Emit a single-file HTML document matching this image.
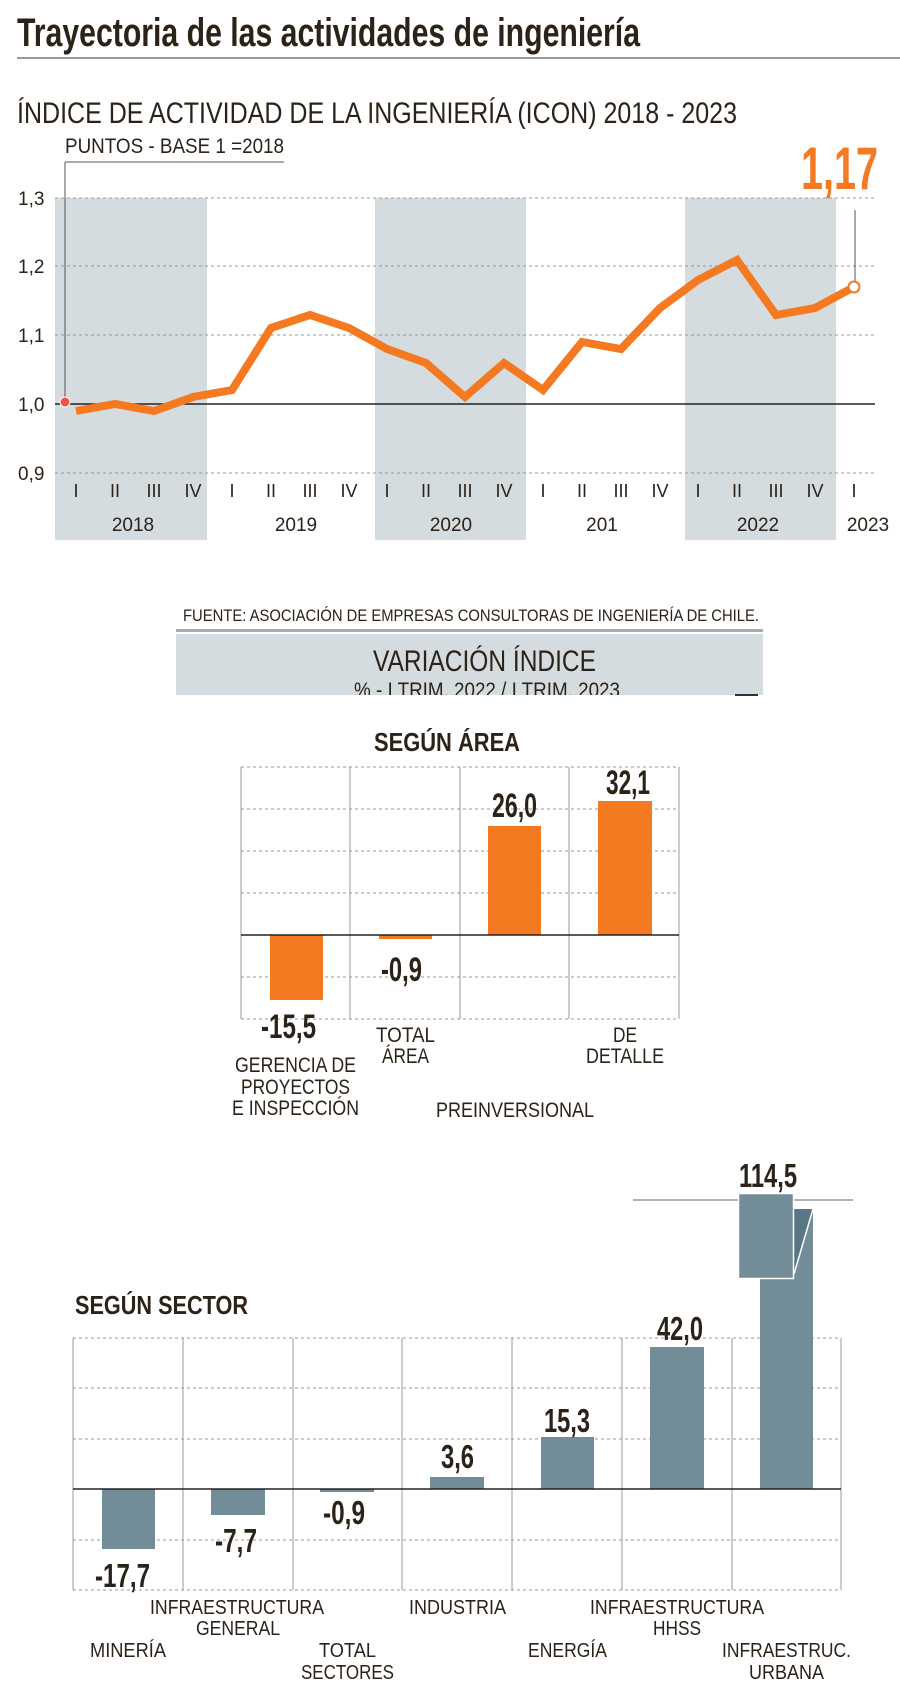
<!DOCTYPE html>
<html><head><meta charset="utf-8"><style>
html,body{margin:0;padding:0;background:#fff;}
svg{display:block;}
text{font-family:"Liberation Sans",sans-serif;fill:#2b2218;}
.b{font-weight:bold;}
</style></head><body>
<svg width="900" height="1707" viewBox="0 0 900 1707" xmlns="http://www.w3.org/2000/svg">
<!-- Title -->
<text x="17" y="46" font-size="40" class="b" textLength="623" lengthAdjust="spacingAndGlyphs">Trayectoria de las actividades de ingeniería</text>
<rect x="17" y="57" width="883" height="2" fill="#9a9a9a"/>
<text x="17" y="123" font-size="30" textLength="720" lengthAdjust="spacingAndGlyphs">ÍNDICE DE ACTIVIDAD DE LA INGENIERÍA (ICON) 2018 - 2023</text>
<text x="65" y="153" font-size="21" textLength="219" lengthAdjust="spacingAndGlyphs">PUNTOS - BASE 1 =2018</text>
<line x1="65" y1="162" x2="284" y2="162" stroke="#555" stroke-width="1"/>
<!-- bands -->
<rect x="55" y="198" width="152" height="342" fill="#d5dcdf"/>
<rect x="375" y="198" width="151" height="342" fill="#d5dcdf"/>
<rect x="685" y="198" width="151" height="342" fill="#d5dcdf"/>
<g stroke="#999" stroke-width="1" stroke-dasharray="3,3">
<line x1="55" y1="198" x2="875" y2="198"/>
<line x1="55" y1="266" x2="875" y2="266"/>
<line x1="55" y1="335" x2="875" y2="335"/>
<line x1="55" y1="473" x2="875" y2="473"/>
</g>
<line x1="55" y1="404" x2="875" y2="404" stroke="#222" stroke-width="1.5"/>
<g font-size="19">
<text x="18" y="205">1,3</text><text x="18" y="273">1,2</text><text x="18" y="342">1,1</text><text x="18" y="411">1,0</text><text x="18" y="480">0,9</text>
</g>
<line x1="65" y1="162" x2="65" y2="402" stroke="#555" stroke-width="1"/>
<g font-size="18" text-anchor="middle">
<text x="76" y="497">I</text><text x="115" y="497">II</text><text x="154" y="497">III</text><text x="193" y="497">IV</text>
<text x="232" y="497">I</text><text x="271" y="497">II</text><text x="310" y="497">III</text><text x="349" y="497">IV</text>
<text x="387" y="497">I</text><text x="426" y="497">II</text><text x="465" y="497">III</text><text x="504" y="497">IV</text>
<text x="543" y="497">I</text><text x="582" y="497">II</text><text x="621" y="497">III</text><text x="660" y="497">IV</text>
<text x="698" y="497">I</text><text x="737" y="497">II</text><text x="776" y="497">III</text><text x="815" y="497">IV</text>
<text x="854" y="497">I</text>
</g>
<g font-size="19" text-anchor="middle">
<text x="133" y="531">2018</text><text x="296" y="531">2019</text><text x="451" y="531">2020</text><text x="602" y="531">201</text><text x="758" y="531">2022</text><text x="868" y="531">2023</text>
</g>
<polyline fill="none" stroke="#f47920" stroke-width="8" stroke-linejoin="miter" points="76,411 115,404 154,411 193,397 232,390 271,328 310,315 349,328 387,349 426,363 465,397 504,363 543,390 582,342 621,349 660,308 698,280 737,260 776,315 815,308 854,287"/>
<circle cx="65" cy="402" r="5" fill="#f0524a" stroke="#fff" stroke-width="1"/>
<line x1="855" y1="210" x2="855" y2="282" stroke="#555" stroke-width="1"/>
<circle cx="854" cy="287" r="5.5" fill="#fff" stroke="#f47920" stroke-width="2"/>
<text x="801" y="189" font-size="60" class="b" fill="#f47920" style="fill:#f47920" textLength="77" lengthAdjust="spacingAndGlyphs">1,17</text>

<!-- Section 2 -->
<text x="183" y="621" font-size="17" textLength="576" lengthAdjust="spacingAndGlyphs">FUENTE: ASOCIACIÓN DE EMPRESAS CONSULTORAS DE INGENIERÍA DE CHILE.</text>
<rect x="176" y="629" width="587" height="3" fill="#aaa"/>
<rect x="176" y="634" width="587" height="61" fill="#d5dcdf"/>
<text x="373" y="671" font-size="30" textLength="223" lengthAdjust="spacingAndGlyphs">VARIACIÓN ÍNDICE</text>
<svg x="0" y="0" width="900" height="695" overflow="hidden"><text x="354" y="697" font-size="21" textLength="266" lengthAdjust="spacingAndGlyphs">% - I TRIM. 2022 / I TRIM. 2023</text></svg>
<rect x="735" y="694" width="23" height="2" fill="#333"/>
<text x="374" y="751" font-size="26" class="b" textLength="146" lengthAdjust="spacingAndGlyphs">SEGÚN ÁREA</text>
<g stroke="#999" stroke-width="1" stroke-dasharray="3,3">
<line x1="241" y1="767" x2="679" y2="767"/><line x1="241" y1="809" x2="679" y2="809"/><line x1="241" y1="851" x2="679" y2="851"/><line x1="241" y1="893" x2="679" y2="893"/><line x1="241" y1="977" x2="679" y2="977"/><line x1="241" y1="1019" x2="679" y2="1019"/>
</g>
<g stroke="#999" stroke-width="1">
<line x1="241" y1="767" x2="241" y2="1019"/><line x1="350" y1="767" x2="350" y2="1019"/><line x1="460" y1="767" x2="460" y2="1019"/><line x1="569" y1="767" x2="569" y2="1019"/><line x1="679" y1="767" x2="679" y2="1019"/>
</g>
<g fill="#f47920">
<rect x="270" y="935" width="53" height="65"/>
<rect x="379" y="935" width="53" height="4"/>
<rect x="488" y="826" width="53" height="109"/>
<rect x="598" y="801" width="54" height="134"/>
</g>
<line x1="241" y1="935" x2="679" y2="935" stroke="#222" stroke-width="1.5"/>
<g font-size="34" class="b">
<text x="492" y="817" textLength="45" lengthAdjust="spacingAndGlyphs">26,0</text>
<text x="606" y="794" textLength="44" lengthAdjust="spacingAndGlyphs">32,1</text>
<text x="381" y="981" textLength="41" lengthAdjust="spacingAndGlyphs">-0,9</text>
<text x="261" y="1038" textLength="55" lengthAdjust="spacingAndGlyphs">-15,5</text>
</g>
<g font-size="21">
<text x="376" y="1042" textLength="59" lengthAdjust="spacingAndGlyphs">TOTAL</text>
<text x="382" y="1063" textLength="47" lengthAdjust="spacingAndGlyphs">ÁREA</text>
<text x="613" y="1042" textLength="24" lengthAdjust="spacingAndGlyphs">DE</text>
<text x="586" y="1063" textLength="78" lengthAdjust="spacingAndGlyphs">DETALLE</text>
<text x="235" y="1072" textLength="121" lengthAdjust="spacingAndGlyphs">GERENCIA DE</text>
<text x="241" y="1094" textLength="109" lengthAdjust="spacingAndGlyphs">PROYECTOS</text>
<text x="232" y="1115" textLength="127" lengthAdjust="spacingAndGlyphs">E INSPECCIÓN</text>
<text x="436" y="1117" textLength="158" lengthAdjust="spacingAndGlyphs">PREINVERSIONAL</text>
</g>

<!-- Section 3 -->
<line x1="633" y1="1200" x2="853" y2="1200" stroke="#999" stroke-width="1.5"/>
<text x="75" y="1314" font-size="26" class="b" textLength="173" lengthAdjust="spacingAndGlyphs">SEGÚN SECTOR</text>
<g stroke="#999" stroke-width="1" stroke-dasharray="3,3">
<line x1="73" y1="1338" x2="841" y2="1338"/><line x1="73" y1="1388" x2="841" y2="1388"/><line x1="73" y1="1439" x2="841" y2="1439"/><line x1="73" y1="1540" x2="841" y2="1540"/><line x1="73" y1="1590" x2="841" y2="1590"/>
</g>
<g stroke="#999" stroke-width="1">
<line x1="73" y1="1338" x2="73" y2="1590"/><line x1="183" y1="1338" x2="183" y2="1590"/><line x1="293" y1="1338" x2="293" y2="1590"/><line x1="402" y1="1338" x2="402" y2="1590"/><line x1="512" y1="1338" x2="512" y2="1590"/><line x1="622" y1="1338" x2="622" y2="1590"/><line x1="732" y1="1338" x2="732" y2="1590"/><line x1="841" y1="1338" x2="841" y2="1590"/>
</g>
<g fill="#728c98">
<rect x="102" y="1489" width="53" height="60"/>
<rect x="211" y="1489" width="54" height="26"/>
<rect x="320" y="1489" width="54" height="3"/>
<rect x="430" y="1477" width="54" height="12"/>
<rect x="541" y="1437" width="53" height="52"/>
<rect x="650" y="1347" width="54" height="142"/>
<rect x="760" y="1209" width="53" height="280"/>
</g>
<polygon points="794,1209 813,1209 794,1272" fill="#587684"/>
<line x1="813" y1="1209" x2="794" y2="1274" stroke="#fff" stroke-width="1.5"/>
<rect x="738.5" y="1193.5" width="55" height="85" fill="#728c98" stroke="#fff" stroke-width="1.5"/>
<line x1="73" y1="1489" x2="841" y2="1489" stroke="#222" stroke-width="1.5"/>
<g font-size="33" class="b">
<text x="95" y="1587" textLength="55" lengthAdjust="spacingAndGlyphs">-17,7</text>
<text x="215" y="1552" textLength="42" lengthAdjust="spacingAndGlyphs">-7,7</text>
<text x="323" y="1524" textLength="42" lengthAdjust="spacingAndGlyphs">-0,9</text>
<text x="441" y="1468" textLength="33" lengthAdjust="spacingAndGlyphs">3,6</text>
<text x="544" y="1432" textLength="46" lengthAdjust="spacingAndGlyphs">15,3</text>
<text x="657" y="1340" textLength="46" lengthAdjust="spacingAndGlyphs">42,0</text>
<text x="739" y="1187" textLength="58" lengthAdjust="spacingAndGlyphs">114,5</text>
</g>
<g font-size="20">
<text x="150" y="1614" textLength="174" lengthAdjust="spacingAndGlyphs">INFRAESTRUCTURA</text>
<text x="196" y="1635" textLength="84" lengthAdjust="spacingAndGlyphs">GENERAL</text>
<text x="409" y="1614" textLength="97" lengthAdjust="spacingAndGlyphs">INDUSTRIA</text>
<text x="590" y="1614" textLength="174" lengthAdjust="spacingAndGlyphs">INFRAESTRUCTURA</text>
<text x="653" y="1635" textLength="48" lengthAdjust="spacingAndGlyphs">HHSS</text>
<text x="90" y="1657" textLength="76" lengthAdjust="spacingAndGlyphs">MINERÍA</text>
<text x="319" y="1657" textLength="57" lengthAdjust="spacingAndGlyphs">TOTAL</text>
<text x="301" y="1679" textLength="93" lengthAdjust="spacingAndGlyphs">SECTORES</text>
<text x="528" y="1657" textLength="79" lengthAdjust="spacingAndGlyphs">ENERGÍA</text>
<text x="722" y="1657" textLength="129" lengthAdjust="spacingAndGlyphs">INFRAESTRUC.</text>
<text x="749" y="1679" textLength="75" lengthAdjust="spacingAndGlyphs">URBANA</text>
</g>
</svg>
</body></html>
